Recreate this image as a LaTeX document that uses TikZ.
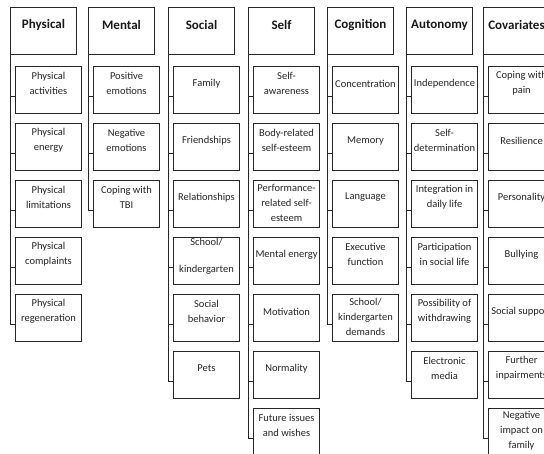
\documentclass[tikz,border=0pt]{standalone}
\usepackage{fontspec}
\setmainfont{Carlito}
\usetikzlibrary{calc}
\newcommand{\rowgap}{57}
\tikzset{
  head/.style={draw=black!85,line width=1pt,anchor=north west,minimum width=66pt,minimum height=47pt,inner sep=0pt},
  headtext/.style={font=\fontsize{13}{15}\selectfont\bfseries,text=black!90,inner sep=0pt},
  leaf/.style={draw=black!85,line width=1pt,anchor=north west,minimum width=66pt,minimum height=47pt,inner sep=0pt},
  leaftext/.style={font=\fontsize{10.5}{15}\selectfont,text=black!85,align=center,inner sep=0pt},
  link/.style={black!85,line width=1pt}
}
% header box: name, left x, title
\newcommand{\prhead}[3]{\node[head] (#1) at (#2,-7) {}; \node[headtext] (#1t) at ($(#1.north)+(0,-18)$) {#3};}
% leaf box: [text drop], column, row, text
\newcommand{\prleaf}[4][17.5]{\node[leaf] (#2#3) at ($(#2.south west)+(5,{-11-\rowgap*(#3-1)})$) {};
  \node[leaftext] (#2#3t) at ($(#2#3.north)+(0,-#1)$) {#4};
  \draw[link] ($(#2.south west |- #2#3.west)+(0,-7)$) -- ([yshift=-7pt]#2#3.west);}
% trunk: column, last row
\newcommand{\prtrunk}[2]{\draw[link] (#1.south west) -- ($(#1.south west |- #1#2.west)+(0,-7)$);}

\begin{document}
\begin{tikzpicture}[x=1pt,y=1pt]

    \useasboundingbox (0,0) rectangle (544,-454);
    \fill[white] (0,0) rectangle (544,-454);
    \clip (0,0) rectangle (544,-454);

    \prhead{phys}{10}{Physical}
    \prhead{ment}{88}{Mental}
    \prhead{soc}{168}{Social}
    \prhead{self}{248}{Self}
    \prhead{cog}{327}{Cognition}
    \prhead{aut}{406}{Autonomy}
    \prhead{cov}{483}{Covariates}

    \prleaf{phys}{1}{Physical\\activities}
    \prleaf{phys}{2}{Physical\\energy}
    \prleaf{phys}{3}{Physical\\limitations}
    \prleaf{phys}{4}{Physical\\complaints}
    \prleaf{phys}{5}{Physical\\regeneration}
    \prtrunk{phys}{5}

    \prleaf{ment}{1}{Positive\\emotions}
    \prleaf{ment}{2}{Negative\\emotions}
    \prleaf{ment}{3}{Coping with\\TBI}
    \prtrunk{ment}{3}

    \prleaf{soc}{1}{Family}
    \prleaf{soc}{2}{Friendships}
    \prleaf{soc}{3}{Relationships}
    \prleaf[19.5]{soc}{4}{School/\\[12pt]kindergarten}
    \prleaf{soc}{5}{Social\\behavior}
    \prleaf{soc}{6}{Pets}
    \prtrunk{soc}{6}

    \prleaf{self}{1}{Self-\\awareness}
    \prleaf{self}{2}{Body-related\\self-esteem}
    \prleaf[23]{self}{3}{Performance-\\related self-\\esteem}
    \prleaf{self}{4}{Mental energy}
    \prleaf{self}{5}{Motivation}
    \prleaf{self}{6}{Normality}
    \prleaf{self}{7}{Future issues\\and wishes}
    \prtrunk{self}{7}

    \prleaf{cog}{1}{Concentration}
    \prleaf{cog}{2}{Memory}
    \prleaf{cog}{3}{Language}
    \prleaf{cog}{4}{Executive\\function}
    \prleaf[23]{cog}{5}{School/\\kindergarten\\demands}
    \prtrunk{cog}{5}

    \prleaf{aut}{1}{Independence}
    \prleaf{aut}{2}{Self-\\determination}
    \prleaf{aut}{3}{Integration in\\daily life}
    \prleaf{aut}{4}{Participation\\in social life}
    \prleaf{aut}{5}{Possibility of\\withdrawing}
    \prleaf{aut}{6}{Electronic\\media}
    \prtrunk{aut}{6}

    \prleaf{cov}{1}{Coping with\\pain}
    \prleaf{cov}{2}{Resilience}
    \prleaf{cov}{3}{Personality}
    \prleaf{cov}{4}{Bullying}
    \prleaf{cov}{5}{Social support}
    \prleaf{cov}{6}{Further\\inpairments}
    \prleaf[23]{cov}{7}{Negative\\impact on\\family}
    \prtrunk{cov}{7}

\end{tikzpicture}
\end{document}
